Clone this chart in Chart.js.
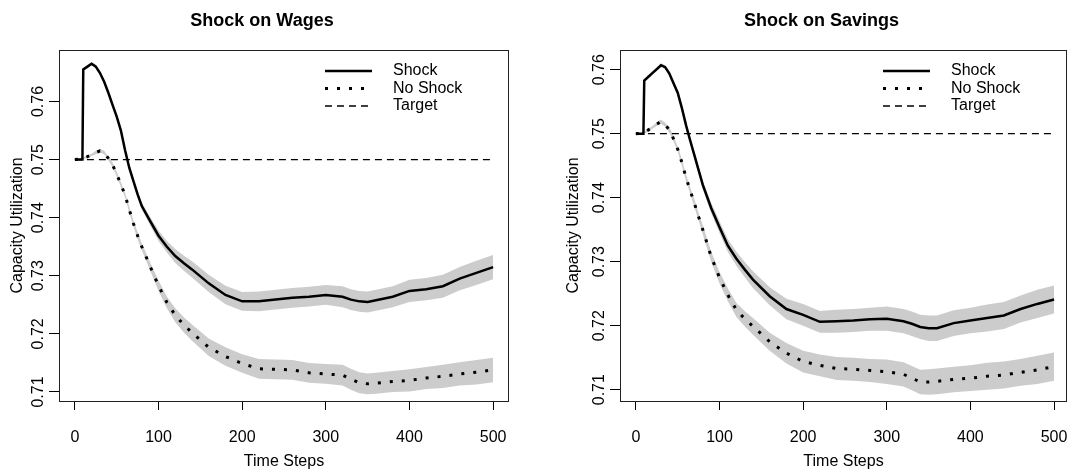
<!DOCTYPE html>
<html lang="en">
<head>
<meta charset="UTF-8">
<title>Shock on Wages / Shock on Savings</title>
<script src="https://cdn.jsdelivr.net/npm/chart.js@4.4.1/dist/chart.umd.min.js"></script>
<style>
    body {
        margin: 0;
        width: 1072px;
        height: 473px;
        overflow: hidden;
        position: relative;
        background: #fff;
    }
    .panel {
        position: absolute;
        top: 0;
        height: 473px;
    }
    #wagesBox { left: 0; width: 536px; }
    #savingsBox { left: 556px; width: 516px; }
</style>
</head>
<body>

<div class="panel" id="wagesBox"><canvas id="wagesChart" width="536" height="473"></canvas></div>
<div class="panel" id="savingsBox"><canvas id="savingsChart" width="516" height="473"></canvas></div>

<script>
// time steps shared by all series
const steps = [0, 9, 10, 15, 20, 25, 30, 35, 40, 45, 50, 55, 60, 65, 70, 75, 80, 90, 100, 110,
               120, 130, 140, 160, 180, 200, 220, 240, 260, 280, 300, 320, 330, 340, 350, 360, 380, 400, 420, 440,
               460, 480, 500];

// Shock on Wages
const wagesShock = [0.7500, 0.7500, 0.7655, 0.7660, 0.7665, 0.7660, 0.7649, 0.7634, 0.7615, 0.7594,
                    0.7574, 0.7550, 0.7516, 0.7486, 0.7463, 0.7440, 0.7420, 0.7394, 0.7369, 0.7350,
                    0.7334, 0.7322, 0.7311, 0.7287, 0.7267, 0.7256, 0.7256, 0.7259, 0.7262, 0.7264,
                    0.7267, 0.7264, 0.7259, 0.7256, 0.7255, 0.7258, 0.7264, 0.7274, 0.7277, 0.7282,
                    0.7295, 0.7305, 0.7315];
const wagesNoShock = [0.7500, 0.7501, 0.7502, 0.7505, 0.7508, 0.7512, 0.7515, 0.7512, 0.7502, 0.7491,
                      0.7475, 0.7457, 0.7439, 0.7414, 0.7390, 0.7369, 0.7350, 0.7316, 0.7283, 0.7254,
                      0.7232, 0.7216, 0.7202, 0.7177, 0.7161, 0.7149, 0.7140, 0.7139, 0.7138, 0.7133,
                      0.7131, 0.7129, 0.7122, 0.7116, 0.7114, 0.7115, 0.7118, 0.7120, 0.7124, 0.7127,
                      0.7131, 0.7134, 0.7138];
// half width of the grey band
const wagesBand = [0, 0.0001, 0.0002, 0.0002, 0.0002, 0.0003, 0.0003, 0.0003, 0.0003, 0.0004,
                   0.0004, 0.0004, 0.0004, 0.0005, 0.0005, 0.0006, 0.0006, 0.0007, 0.0009, 0.0010,
                   0.0012, 0.0013, 0.0014, 0.0015, 0.0016, 0.0016, 0.0017, 0.0017, 0.0017, 0.0017,
                   0.0017, 0.0018, 0.0018, 0.0018, 0.0018, 0.0018, 0.0018, 0.0019, 0.0019, 0.0020,
                   0.0020, 0.0021, 0.0021];

// Shock on Savings
const savingsShock = [0.7500, 0.7500, 0.7583, 0.7589, 0.7595, 0.7601, 0.7607, 0.7604, 0.7594, 0.7579,
                      0.7564, 0.7540, 0.7513, 0.7489, 0.7466, 0.7443, 0.7420, 0.7384, 0.7354, 0.7325,
                      0.7305, 0.7288, 0.7272, 0.7246, 0.7226, 0.7217, 0.7206, 0.7207, 0.7208, 0.7210,
                      0.7211, 0.7207, 0.7203, 0.7198, 0.7196, 0.7196, 0.7204, 0.7208, 0.7212, 0.7216,
                      0.7226, 0.7234, 0.7241];
const savingsNoShock = [0.7500, 0.7501, 0.7502, 0.7506, 0.7510, 0.7515, 0.7519, 0.7514, 0.7506, 0.7492,
                        0.7476, 0.7455, 0.7431, 0.7411, 0.7391, 0.7370, 0.7350, 0.7308, 0.7275, 0.7248,
                        0.7225, 0.7211, 0.7199, 0.7175, 0.7157, 0.7144, 0.7138, 0.7133, 0.7132, 0.7130,
                        0.7128, 0.7124, 0.7118, 0.7112, 0.7112, 0.7113, 0.7116, 0.7118, 0.7121, 0.7123,
                        0.7127, 0.7131, 0.7136];
const savingsBand = [0, 0.0001, 0.0002, 0.0002, 0.0002, 0.0003, 0.0003, 0.0003, 0.0004, 0.0004,
                     0.0004, 0.0005, 0.0005, 0.0005, 0.0006, 0.0006, 0.0007, 0.0008, 0.0009, 0.0010,
                     0.0011, 0.0012, 0.0013, 0.0014, 0.0016, 0.0017, 0.0017, 0.0018, 0.0018, 0.0018,
                     0.0019, 0.0019, 0.0019, 0.0019, 0.0020, 0.0020, 0.0020, 0.0020, 0.0021, 0.0021,
                     0.0021, 0.0022, 0.0022];

const targetLevel = 0.75;
const legendLabels = ["Shock", "No Shock", "Target"];
const xTicks = [0, 100, 200, 300, 400, 500];
const yTicks = [0.71, 0.72, 0.73, 0.74, 0.75, 0.76];

Chart.defaults.font.family = '"Liberation Sans", Arial, sans-serif';
Chart.defaults.font.size = 16;
Chart.defaults.color = "#000";

// box around the plot, panel title and the R-style legend
const framePlugin = {
    id: "frame",
    afterDatasetsDraw(chart) {
        const { ctx, chartArea: a } = chart;
        ctx.save();
        ctx.strokeStyle = "#222";
        ctx.lineWidth = 1;
        ctx.strokeRect(a.left + 0.5, a.top + 0.5, a.right - a.left - 1, a.bottom - a.top);
        ctx.restore();
    }
};

const titlePlugin = {
    id: "panelTitle",
    afterDraw(chart, args, opts) {
        const { ctx, chartArea: a } = chart;
        ctx.save();
        ctx.font = 'bold 18px "Liberation Sans", Arial, sans-serif';
        ctx.fillStyle = "#000";
        ctx.textAlign = "center";
        ctx.textBaseline = "middle";
        ctx.fillText(opts.text, (a.left + a.right) / 2 - 22, 21);
        ctx.restore();
    }
};

const legendPlugin = {
    id: "rLegend",
    afterDraw(chart) {
        const { ctx, chartArea: a } = chart;
        const x0 = a.right - 184;
        ctx.save();
        legendLabels.forEach((lab, i) => {
            const ds = chart.data.datasets[i];
            const y = a.top + 21 + i * 17.5;
            ctx.beginPath();
            ctx.setLineDash(ds.borderDash || []);
            ctx.lineWidth = ds.borderWidth;
            ctx.strokeStyle = ds.borderColor;
            ctx.moveTo(x0, y);
            ctx.lineTo(x0 + 47, y);
            ctx.stroke();
            ctx.setLineDash([]);
            ctx.fillStyle = "#000";
            ctx.font = '16px "Liberation Sans", Arial, sans-serif';
            ctx.textBaseline = "middle";
            ctx.fillText(lab, x0 + 68, y);
        });
        ctx.restore();
    }
};

function points(vals, shift, sign) {
    return steps.map((t, i) => ({ x: t, y: vals[i] + (shift ? sign * shift[i] : 0) }));
}

function makePanel(id, title, shock, noShock, band, yMin, yMax, xMax, axisW, padRight) {
    const lineBase = { pointRadius: 0, tension: 0, fill: false };
    const bandBase = { pointRadius: 0, tension: 0, borderWidth: 0, backgroundColor: "#cccccc" };
    return new Chart(document.getElementById(id), {
        type: "line",
        data: {
            datasets: [
                { ...lineBase, label: "Shock", data: points(shock), borderColor: "#000", borderWidth: 2.5 },
                { ...lineBase, label: "No Shock", data: points(noShock), borderColor: "#000", borderWidth: 3,
                  borderDash: [3, 9] },
                { ...lineBase, label: "Target", data: [{ x: steps[0], y: targetLevel }, { x: steps[steps.length - 1], y: targetLevel }],
                  borderColor: "#000", borderWidth: 1.3, borderDash: [7, 5] },
                { ...bandBase, label: "shockHi", data: points(shock, band, 1), fill: "+1" },
                { ...bandBase, label: "shockLo", data: points(shock, band, -1), fill: false },
                { ...bandBase, label: "noHi", data: points(noShock, band, 1), fill: "+1" },
                { ...bandBase, label: "noLo", data: points(noShock, band, -1), fill: false }
            ]
        },
        options: {
            responsive: false,
            animation: false,
            devicePixelRatio: 1,
            layout: { padding: { top: 50, right: padRight, left: 0, bottom: 0 } },
            plugins: {
                legend: { display: false },
                tooltip: { enabled: false },
                filler: { drawTime: "beforeDatasetsDraw" },
                panelTitle: { text: title }
            },
            scales: {
                x: {
                    type: "linear",
                    min: -19,
                    max: xMax,
                    afterBuildTicks: axis => { axis.ticks = xTicks.map(v => ({ value: v })); },
                    afterFit: axis => { axis.height = 72; },
                    grid: { drawOnChartArea: false, drawTicks: true, tickLength: 9, color: "#000" },
                    border: { display: false },
                    // tall line height pushes the labels down without adding side padding
                    ticks: { padding: 0, maxRotation: 0, font: { size: 16, lineHeight: 3.45 },
                             callback: v => String(v) },
                    title: { display: true, text: "Time Steps", padding: { top: 0, bottom: 2 } }
                },
                y: {
                    min: yMin,
                    max: yMax,
                    afterBuildTicks: axis => { axis.ticks = yTicks.map(v => ({ value: v })); },
                    afterFit: axis => { axis.width = axisW; },
                    grid: { drawOnChartArea: false, drawTicks: true, tickLength: 10, color: "#000" },
                    border: { display: false },
                    ticks: { minRotation: 90, maxRotation: 90, crossAlign: "center", padding: -5,
                             callback: v => v.toFixed(2) },
                    title: { display: true, text: "Capacity Utilization", padding: { top: 8, bottom: 0 } }
                }
            }
        },
        plugins: [framePlugin, titlePlugin, legendPlugin]
    });
}

makePanel("wagesChart", "Shock on Wages", wagesShock, wagesNoShock, wagesBand, 0.70845, 0.76886, 519, 59, 27);
makePanel("savingsChart", "Shock on Savings", savingsShock, savingsNoShock, savingsBand, 0.70823, 0.76308, 515.5, 64, 5);
</script>

</body>
</html>
